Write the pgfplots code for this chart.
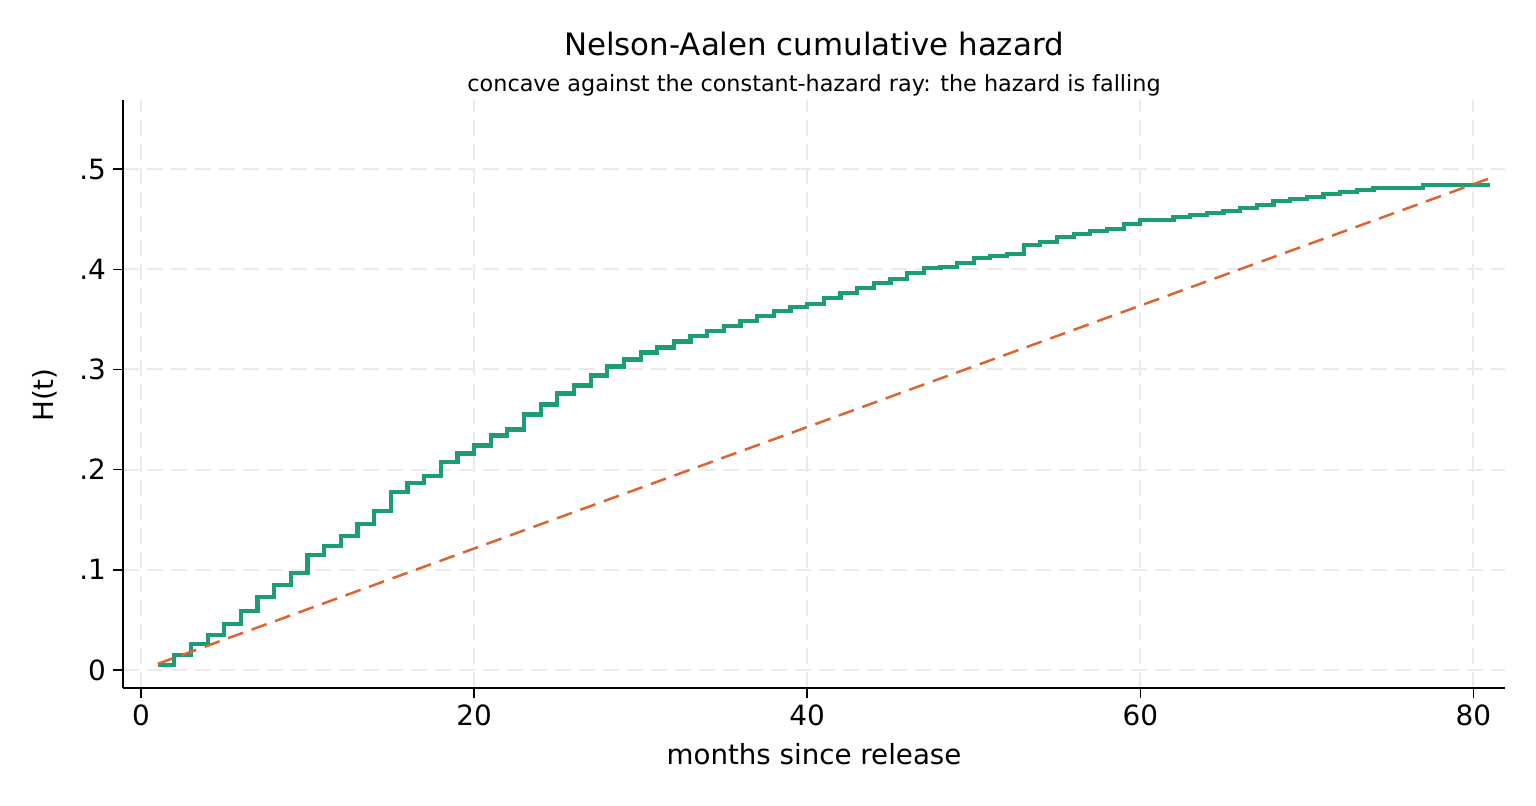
\documentclass[border=0pt]{standalone}
\usepackage{fontspec}
\setmainfont{DejaVu Sans}
\usepackage{pgfplots}
\pgfplotsset{compat=1.18}
\definecolor{nagreen}{HTML}{1B9E77}
\definecolor{rayorange}{HTML}{DD6330}
\definecolor{gridgray}{HTML}{EBEBEB}
\begin{document}
\begin{tikzpicture}
\path[use as bounding box] (-61.5bp,-59bp) rectangle (706.5bp,344bp);
\begin{axis}[
  at={(0,0)}, anchor=south west,
  scale only axis, width=691bp, height=294bp,
  xmin=-1.08, xmax=81.9, ymin=-0.018, ymax=0.569,
  axis x line*=bottom, axis y line*=left,
  axis line style={black, line width=0.75bp},
  xtick={0,20,40,60,80},
  ytick={0,0.1,0.2,0.3,0.4,0.5},
  yticklabels={0,.1,.2,.3,.4,.5},
  tick align=outside, major tick length=5bp,
  tick style={black, line width=0.75bp},
  minor tick num=0,
  grid=major,
  major grid style={gridgray, line width=1bp, dash pattern=on 8bp off 4bp},
  tick label style={font=\fontsize{14}{14}\selectfont},
  /pgf/number format/assume math mode=true,
  clip=false,
]
\addplot[const plot, nagreen, line width=2.1bp] coordinates {
(1,0.005) (2,0.015) (3,0.026) (4,0.035) (5,0.046) (6,0.059) (7,0.073) (8,0.085)
(9,0.097) (10,0.115) (11,0.124) (12,0.134) (13,0.146) (14,0.159) (15,0.178)
(16,0.187) (17,0.194) (18,0.208) (19,0.216) (20,0.224) (21,0.234) (22,0.240)
(23,0.255) (24,0.265) (25,0.276) (26,0.284) (27,0.294) (28,0.303) (29,0.310)
(30,0.317) (31,0.322) (32,0.328) (33,0.333) (34,0.338) (35,0.343) (36,0.348)
(37,0.353) (38,0.358) (39,0.362) (40,0.365) (41,0.371) (42,0.376) (43,0.381)
(44,0.386) (45,0.390) (46,0.396) (47,0.401) (48,0.402) (49,0.406) (50,0.411)
(51,0.413) (52,0.415) (53,0.424) (54,0.427) (55,0.432) (56,0.435) (57,0.438)
(58,0.440) (59,0.445) (60,0.449) (62,0.452) (63,0.454) (64,0.456) (65,0.458)
(66,0.461) (67,0.464) (68,0.468) (69,0.470) (70,0.472) (71,0.475) (72,0.477)
(73,0.479) (74,0.481) (77,0.484) (81,0.484)
};
\addplot[rayorange, line width=1.25bp, dash pattern=on 8bp off 4.5bp] coordinates {
(1,0.00606) (81,0.491)
};
\end{axis}
\node at (345.5bp,322bp) {\fontsize{15.5}{16}\selectfont Nelson-Aalen cumulative hazard};
\node at (345.5bp,301.5bp) {\fontsize{11.2}{12}\selectfont concave against the constant-hazard ray: the hazard is falling};
\node at (345.5bp,-33bp) {\fontsize{13.9}{14}\selectfont months since release};
\node[rotate=90] at (-39bp,146.5bp) {\fontsize{13.9}{14}\selectfont H(t)};
\end{tikzpicture}
\end{document}
